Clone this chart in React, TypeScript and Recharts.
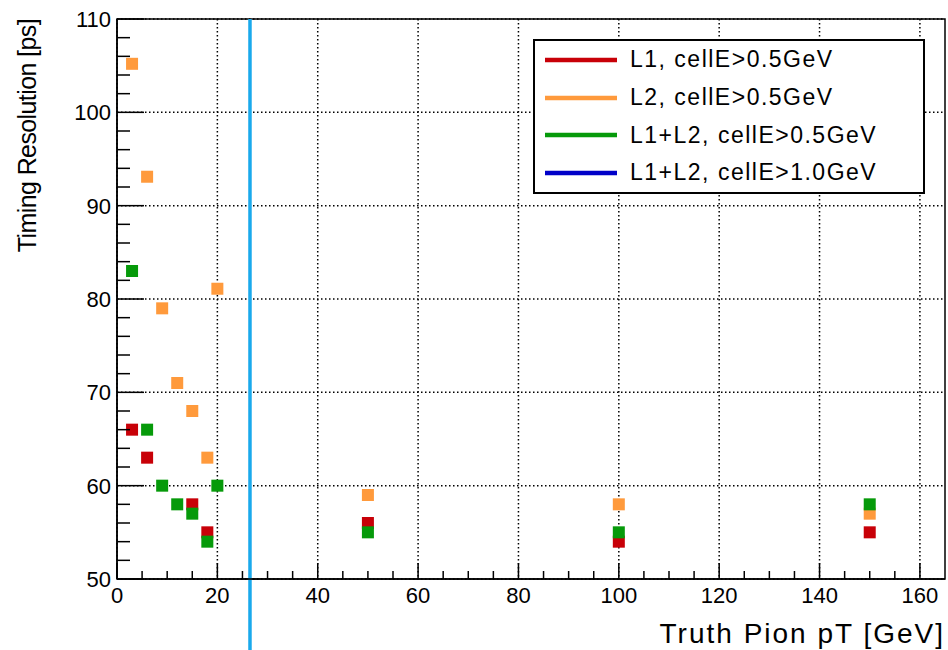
import React from "react";
import {
	ScatterChart,
	Scatter,
	XAxis,
	YAxis,
	CartesianGrid,
	ReferenceLine,
	ReferenceArea,
	Legend,
	Label,
} from "recharts";

// pion pT [GeV] and timing resolution [ps] per layer selection
const L1_PT = [3, 6, 15, 18, 50, 100, 150];
const L1_RES = [66, 63, 58, 55, 56, 54, 55];

const L2_PT = [3, 6, 9, 12, 15, 18, 20, 50, 100, 150];
const L2_RES = [105.2, 93.1, 79, 71, 68, 63, 81.1, 59, 58, 57];

const L12_PT = [3, 6, 9, 12, 15, 18, 20, 50, 100, 150];
const L12_RES = [83, 66, 60, 58, 57, 54, 60, 55, 55, 58];

const L12_HI_PT: number[] = [];
const L12_HI_RES: number[] = [];

const SERIES_NAMES = [
	"L1, cellE>0.5GeV",
	"L2, cellE>0.5GeV",
	"L1+L2, cellE>0.5GeV",
	"L1+L2, cellE>1.0GeV",
];
const SERIES_COLORS = ["#c80008", "#ff9a3c", "#069a0a", "#0000c8"];

const CUT_PT = 26.5;

const X_MAJOR = [0, 20, 40, 60, 80, 100, 120, 140, 160];
const X_TICKS = [
	0, 5, 10, 15, 20, 25, 30, 35, 40, 45, 50, 55, 60, 65, 70, 75, 80, 85, 90, 95, 100, 105, 110, 115, 120, 125, 130,
	135, 140, 145, 150, 155, 160,
];
const Y_MAJOR = [50, 60, 70, 80, 90, 100, 110];
const Y_TICKS = [
	50, 52, 54, 56, 58, 60, 62, 64, 66, 68, 70, 72, 74, 76, 78, 80, 82, 84, 86, 88, 90, 92, 94, 96, 98, 100, 102, 104,
	106, 108, 110,
];

const FONT = '"Liberation Sans", Arial, Helvetica, sans-serif';
const MARKER = 12;

const toPoints = (pt: number[], res: number[]) => pt.map((p, i) => ({ pt: p, res: res[i] }));

const XTick = (props: any) => {
	const { x, y, payload } = props;
	const major = X_MAJOR.includes(payload.value);
	return (
		<g>
			<line x1={x} x2={x} y1={y} y2={y - (major ? 16 : 8)} stroke="#000" strokeWidth={1.5} />
			{major && (
				<text x={x} y={y + 24} textAnchor="middle" fontSize={22} fontFamily={FONT} fill="#000">
					{payload.value}
				</text>
			)}
		</g>
	);
};

const YTick = (props: any) => {
	const { x, y, payload } = props;
	const major = Y_MAJOR.includes(payload.value);
	return (
		<g>
			<line x1={x} x2={x + (major ? 27 : 13)} y1={y} y2={y} stroke="#000" strokeWidth={1.5} />
			{major && (
				<text x={x - 6} y={y + 8} textAnchor="end" fontSize={22} fontFamily={FONT} fill="#000">
					{payload.value}
				</text>
			)}
		</g>
	);
};

const SquareDot = (props: any) => (
	<rect
		x={props.cx - MARKER / 2}
		y={props.cy - MARKER / 2}
		width={MARKER}
		height={MARKER}
		fill={props.fill}
	/>
);

const LegendBox = () => (
	<div
		style={{
			width: 392,
			height: 155,
			boxSizing: "border-box",
			border: "2px solid #000",
			background: "#fff",
			fontFamily: FONT,
		}}
	>
		{SERIES_NAMES.map((name, i) => (
			<div key={name} style={{ height: 37.7, display: "flex", alignItems: "center" }}>
				<svg width={95} height={10} style={{ flex: "none" }}>
					<line x1={10} x2={82} y1={5} y2={5} stroke={SERIES_COLORS[i]} strokeWidth={4.5} />
				</svg>
				<span style={{ fontSize: 23, letterSpacing: 1.5, color: "#000", whiteSpace: "nowrap" }}>{name}</span>
			</div>
		))}
	</div>
);

export default function App() {
	const series = [
		toPoints(L1_PT, L1_RES),
		toPoints(L2_PT, L2_RES),
		toPoints(L12_PT, L12_RES),
		toPoints(L12_HI_PT, L12_HI_RES),
	];

	return (
		<div style={{ position: "absolute", left: 0, top: 0, width: 948, height: 650, background: "#fff" }}>
			<ScatterChart width={948} height={650} margin={{ top: 19, right: 3, bottom: 0, left: 0 }}>
				<CartesianGrid
					horizontalValues={Y_MAJOR}
					verticalValues={X_MAJOR}
					stroke="#000"
					strokeDasharray="1.5 2.5"
					strokeWidth={1.5}
				/>
				<XAxis
					type="number"
					dataKey="pt"
					domain={[0, 165]}
					ticks={X_TICKS}
					interval={0}
					tick={<XTick />}
					tickLine={false}
					tickSize={0}
					tickMargin={0}
					height={71}
					axisLine={{ stroke: "#000", strokeWidth: 1.5 }}
				>
					<Label
						content={(p: any) => (
							<text
								x={p.viewBox.x + p.viewBox.width}
								y={p.viewBox.y + 64}
								textAnchor="end"
								fontSize={28}
								letterSpacing={2}
								fontFamily={FONT}
								fill="#000"
							>
								Truth Pion pT [GeV]
							</text>
						)}
					/>
				</XAxis>
				<YAxis
					type="number"
					dataKey="res"
					domain={[50, 110]}
					ticks={Y_TICKS}
					interval={0}
					tick={<YTick />}
					tickLine={false}
					tickSize={0}
					tickMargin={0}
					width={117}
					axisLine={{ stroke: "#000", strokeWidth: 1.5 }}
				>
					<Label
						content={(p: any) => (
							<text
								x={36}
								y={p.viewBox.y}
								transform={`rotate(-90, 36, ${p.viewBox.y})`}
								textAnchor="end"
								fontSize={25}
								letterSpacing={-0.6}
								fontFamily={FONT}
								fill="#000"
							>
								Timing Resolution [ps]
							</text>
						)}
					/>
				</YAxis>
				<ReferenceArea x1={0} x2={165} y1={50} y2={110} fill="none" stroke="#000" strokeWidth={1.5} />
				{series.map((data, i) => (
					<Scatter
						key={SERIES_NAMES[i]}
						name={SERIES_NAMES[i]}
						data={data}
						fill={SERIES_COLORS[i]}
						shape={<SquareDot />}
						isAnimationActive={false}
					/>
				))}
				<ReferenceLine
					segment={[
						{ x: CUT_PT, y: 110 },
						{ x: CUT_PT, y: 42 },
					]}
					ifOverflow="visible"
					stroke="#1aa9ec"
					strokeWidth={3.5}
				/>
				<Legend
					layout="vertical"
					align="center"
					verticalAlign="middle"
					content={<LegendBox />}
					wrapperStyle={{ left: 533, top: 39, width: 392, height: 155 }}
				/>
			</ScatterChart>
		</div>
	);
}
